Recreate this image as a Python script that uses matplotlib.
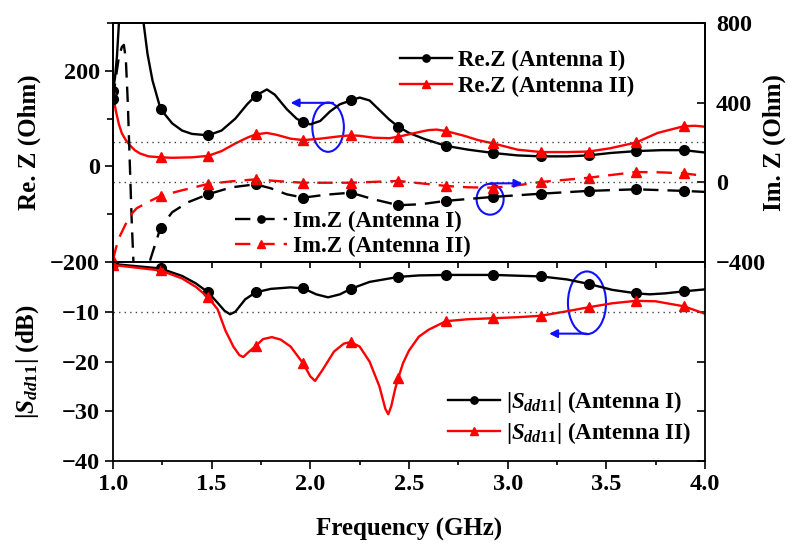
import numpy as np
import matplotlib
matplotlib.use("Agg")
import matplotlib.pyplot as plt
from matplotlib.patches import Ellipse
from matplotlib.ticker import MultipleLocator

plt.rcParams['font.family'] = ['Liberation Serif', 'DejaVu Serif']
plt.rcParams['font.weight'] = 'bold'
plt.rcParams['mathtext.fontset'] = 'custom'
plt.rcParams['mathtext.rm'] = 'Liberation Serif:bold'
plt.rcParams['mathtext.it'] = 'Liberation Serif:italic:bold'
plt.rcParams['mathtext.bf'] = 'Liberation Serif:bold'

# ---------------- data ----------------
marker_freqs = [1.000, 1.241, 1.482, 1.723, 1.964, 2.205, 2.446, 2.687,
                2.928, 3.169, 3.410, 3.651, 3.892]

re1_f = [1.000, 1.010, 1.020, 1.030, 1.050, 1.080, 1.110, 1.140, 1.155, 1.175,
         1.200, 1.241, 1.300, 1.350, 1.400, 1.482, 1.550, 1.620, 1.680, 1.723,
         1.780, 1.820, 1.880, 1.930, 1.964, 2.000, 2.050, 2.100, 2.150, 2.205,
         2.250, 2.300, 2.350, 2.400, 2.446, 2.500, 2.580, 2.687, 2.800, 2.928,
         3.050, 3.169, 3.300, 3.410, 3.520, 3.651, 3.780, 3.892, 4.000]
re1_v = [158, 185, 230, 300, 420, 520, 480, 350, 300, 235,
         180, 120, 90, 75, 68, 65, 75, 100, 130, 148,
         161, 150, 120, 100, 92, 88, 95, 115, 130, 138,
         144, 138, 118, 98, 83, 70, 57, 43, 35, 28,
         23, 21, 21, 23, 28, 32, 34, 34, 29]

re2_f = [1.000, 1.015, 1.030, 1.045, 1.065, 1.086, 1.110, 1.137, 1.180, 1.241,
         1.300, 1.400, 1.482, 1.550, 1.620, 1.680, 1.723, 1.780, 1.830, 1.900,
         1.964, 2.050, 2.150, 2.205, 2.250, 2.320, 2.400, 2.446, 2.530, 2.600,
         2.640, 2.687, 2.780, 2.850, 2.928, 3.050, 3.169, 3.300, 3.410, 3.520,
         3.651, 3.760, 3.892, 3.950, 4.000]
re2_v = [150, 115, 88, 69, 55, 44, 34, 27, 21, 19,
         18, 19, 22, 32, 48, 60, 67, 70, 66, 58,
         55, 58, 63, 65, 64, 60, 59, 62, 70, 76,
         77, 74, 64, 55, 48, 35, 30, 30, 31, 38,
         50, 70, 84, 85, 83]

im1_f = [1.000, 1.015, 1.030, 1.045, 1.055, 1.065, 1.075, 1.085, 1.095, 1.105,
         1.130, 1.160, 1.190, 1.241, 1.300, 1.380, 1.482, 1.600, 1.723, 1.800,
         1.880, 1.964, 2.080, 2.205, 2.320, 2.446, 2.560, 2.687, 2.928, 3.169,
         3.410, 3.651, 3.892, 4.000]
im1_v = [420, 530, 630, 680, 690, 620, 400, 100, -200, -430,
         -560, -500, -385, -227, -150, -100, -60, -25, -10, -30,
         -60, -77, -62, -52, -85, -115, -110, -93, -73, -57,
         -43, -35, -43, -48]

im2_f = [1.000, 1.015, 1.030, 1.060, 1.086, 1.120, 1.190, 1.241, 1.350, 1.482,
         1.600, 1.723, 1.850, 1.964, 2.205, 2.446, 2.560, 2.687, 2.800, 2.928,
         3.050, 3.169, 3.410, 3.651, 3.780, 3.892, 4.000]
im2_v = [-390, -330, -280, -218, -168, -130, -93, -68, -40, -8,
         5, 15, 5, -2, -2, 7, -5, -18, -25, -27,
         -15, 2, 23, 52, 50, 45, 32]

s1_f = [1.000, 1.241, 1.350, 1.420, 1.482, 1.530, 1.565, 1.593, 1.620, 1.670,
        1.723, 1.800, 1.900, 1.964, 2.030, 2.090, 2.150, 2.205, 2.300, 2.446,
        2.550, 2.687, 2.928, 3.169, 3.300, 3.410, 3.530, 3.651, 3.720, 3.800,
        3.892, 4.000]
s1_v = [-0.4, -1.3, -2.8, -4.3, -6.1, -8.2, -9.8, -10.5, -10.0, -7.5,
        -6.1, -5.4, -5.1, -5.3, -6.5, -7.1, -6.5, -5.4, -4.0, -3.0,
        -2.7, -2.6, -2.6, -2.9, -3.5, -4.4, -5.6, -6.3, -6.5, -6.3,
        -5.9, -5.5]

s2_f = [1.000, 1.241, 1.350, 1.420, 1.482, 1.530, 1.570, 1.610, 1.640, 1.660,
        1.690, 1.723, 1.760, 1.805, 1.850, 1.900, 1.964, 2.000, 2.024, 2.060,
        2.120, 2.170, 2.205, 2.250, 2.300, 2.350, 2.380, 2.395, 2.410, 2.430,
        2.446, 2.470, 2.500, 2.550, 2.600, 2.687, 2.800, 2.928, 3.050, 3.169,
        3.300, 3.410, 3.530, 3.651, 3.750, 3.892, 4.000]
s2_v = [-0.6, -1.7, -3.3, -5.0, -7.1, -9.5, -13.8, -17.0, -18.7, -19.1,
        -18.0, -16.9, -15.5, -15.1, -15.6, -17.0, -20.4, -23.0, -23.9, -21.8,
        -18.0, -16.4, -16.1, -17.0, -20.0, -25.0, -29.5, -30.6, -29.0, -25.5,
        -23.3, -20.3, -17.8, -15.0, -13.6, -11.9, -11.5, -11.3, -11.1, -10.8,
        -9.9, -9.1, -8.3, -7.8, -7.9, -8.9, -10.4]

x_ticks = [1.0, 1.5, 2.0, 2.5, 3.0, 3.5, 4.0]
re_ticks = [-200, 0, 200]
im_ticks = [-400, 0, 400, 800]
s_ticks = [-40, -30, -20, -10]


def mk_idx(f):
    f = np.asarray(f)
    return [int(np.argmin(np.abs(f - m))) for m in marker_freqs
            if np.min(np.abs(f - m)) < 1e-6]


# ---------------- figure ----------------
W, H = 796, 557
fig = plt.figure(figsize=(W / 100, H / 100), dpi=100)
L, R = 113 / W, 705 / W
axb = fig.add_axes([L, 1 - 461 / H, R - L, 199 / H])
ax = fig.add_axes([L, 1 - 262 / H, R - L, 239 / H])
ax.set_facecolor('none')
ax2 = ax.twinx()

TICK = 17.5
LW = 1.7
DASH = (0, (6.5, 3.8))
for a in (ax, ax2, axb):
    for s in a.spines.values():
        s.set_linewidth(1.3)

# top panel: Re
ax.plot(re1_f, re1_v, color='black', lw=LW, marker='o', ms=7,
        markevery=mk_idx(re1_f), label='Re.Z (Antenna I)')
ax.plot(re2_f, re2_v, color='red', lw=LW, marker='^', ms=7,
        markevery=mk_idx(re2_f), label='Re.Z (Antenna II)')
ax.axhline(50, color='#444444', lw=1.0, ls=(0, (1, 3)))
ax.set_xlim(1.0, 4.0)
ax.set_ylim(-200, 300)
ax.set_yticks(re_ticks)
ax.yaxis.set_minor_locator(MultipleLocator(100))
ax.set_xticks(x_ticks)
ax.xaxis.set_minor_locator(MultipleLocator(0.25))
ax.tick_params(axis='x', which='both', direction='out', labelbottom=False,
               length=4, width=1.2)
ax.tick_params(axis='y', which='major', direction='out', length=6, width=1.2,
               labelsize=TICK)
ax.tick_params(axis='y', which='minor', direction='out', length=4, width=1.2)
for t in ax.get_yticklabels():
    t.set_fontweight('bold')
ax.set_ylabel('Re. Z (Ohm)', fontsize=18, fontweight='bold')

# top panel: Im (right axis)
ax2.plot(im1_f, im1_v, color='black', lw=LW, ls=DASH, marker='o', ms=7,
         markevery=mk_idx(im1_f), label='Im.Z (Antenna I)')
ax2.plot(im2_f, im2_v, color='red', lw=LW, ls=DASH, marker='^', ms=7,
         markevery=mk_idx(im2_f), label='Im.Z (Antenna II)')
ax2.axhline(0, color='#444444', lw=1.0, ls=(0, (1, 3)))
ax2.set_ylim(-400, 800)
ax2.set_yticks(im_ticks)
ax2.tick_params(axis='y', direction='in', length=6, width=1.2, labelsize=TICK,
                pad=8)
for t in ax2.get_yticklabels():
    t.set_fontweight('bold')
ax2.set_ylabel('Im. Z (Ohm)', fontsize=18, fontweight='bold')

# bottom panel
axb.plot(s1_f, s1_v, color='black', lw=LW, marker='o', ms=7,
         markevery=mk_idx(s1_f), label=r'$|S_{dd\mathrm{11}}|$ (Antenna I)')
axb.plot(s2_f, s2_v, color='red', lw=LW, marker='^', ms=7,
         markevery=mk_idx(s2_f), label=r'$|S_{dd\mathrm{11}}|$ (Antenna II)')
axb.axhline(-10, color='#444444', lw=1.0, ls=(0, (1, 3)))
axb.set_xlim(1.0, 4.0)
axb.set_ylim(-40, 0)
axb.set_yticks(s_ticks)
axb.set_xticks(x_ticks)
axb.xaxis.set_minor_locator(MultipleLocator(0.25))
axb.tick_params(axis='x', which='major', direction='out', length=6, width=1.2,
                labelsize=TICK, pad=3)
axb.tick_params(axis='x', which='minor', direction='out', length=3, width=1.2)
axb.tick_params(axis='y', which='major', direction='out', length=6, width=1.2,
                labelsize=TICK)
axb.tick_params(axis='y', which='major', right=True)
axb.set_xticklabels([f'{v:.1f}' for v in x_ticks])
for t in axb.get_xticklabels() + axb.get_yticklabels():
    t.set_fontweight('bold')
axb.set_xlabel('Frequency (GHz)', fontsize=18, fontweight='bold', labelpad=17)
axb.set_ylabel(r'$|S_{dd\mathrm{11}}|$ (dB)', fontsize=18, fontweight='bold')
# right-side ticks of bottom panel point inward
for tl in axb.yaxis.get_major_ticks():
    tl.tick2line.set_marker(matplotlib.lines.TICKLEFT)
    tl.tick2line.set_markersize(6)

# y label positions
ax.yaxis.set_label_coords(-0.122, 0.5)
axb.yaxis.set_label_coords(-0.122, 0.5)
ax2.yaxis.set_label_coords(1.097, 0.5)

# legends
leg_kw = dict(frameon=False, borderpad=0, borderaxespad=0,
              handlelength=2.25, handletextpad=0.3, markerscale=0.75,
              numpoints=1, prop={'weight': 'bold', 'size': 16.5})
ax.legend(loc='center left', bbox_to_anchor=(400 / W, 1 - 73.5 / H),
          bbox_transform=fig.transFigure, labelspacing=0.2, **leg_kw)
ax2.legend(loc='center left', bbox_to_anchor=(235 / W, 1 - 234 / H),
           bbox_transform=fig.transFigure, labelspacing=0.2, **leg_kw)
axb.legend(loc='center left', bbox_to_anchor=(448 / W, 1 - 417.5 / H),
           bbox_transform=fig.transFigure, labelspacing=0.25, **leg_kw)

# blue annotations
blue = '#1010ff'
ax.add_patch(Ellipse((2.09, 82), 0.16, 103, fill=False, ec=blue, lw=1.5))
ax.annotate('', xy=(1.90, 133), xytext=(2.115, 133),
            arrowprops=dict(arrowstyle='-|>', color=blue, lw=1.5,
                            mutation_scale=12, shrinkA=0, shrinkB=0))
ax2.add_patch(Ellipse((2.911, -85), 0.137, 155, fill=False, ec=blue, lw=1.5))
ax2.annotate('', xy=(3.075, -5), xytext=(2.911, -5),
             arrowprops=dict(arrowstyle='-|>', color=blue, lw=1.5,
                             mutation_scale=12, shrinkA=0, shrinkB=0))
axb.add_patch(Ellipse((3.402, -8.2), 0.193, 12.6, fill=False, ec=blue, lw=1.5))
axb.annotate('', xy=(3.21, -14.4), xytext=(3.402, -14.4),
             arrowprops=dict(arrowstyle='-|>', color=blue, lw=1.5,
                             mutation_scale=12, shrinkA=0, shrinkB=0))

fig.savefig('out.png', dpi=100)
